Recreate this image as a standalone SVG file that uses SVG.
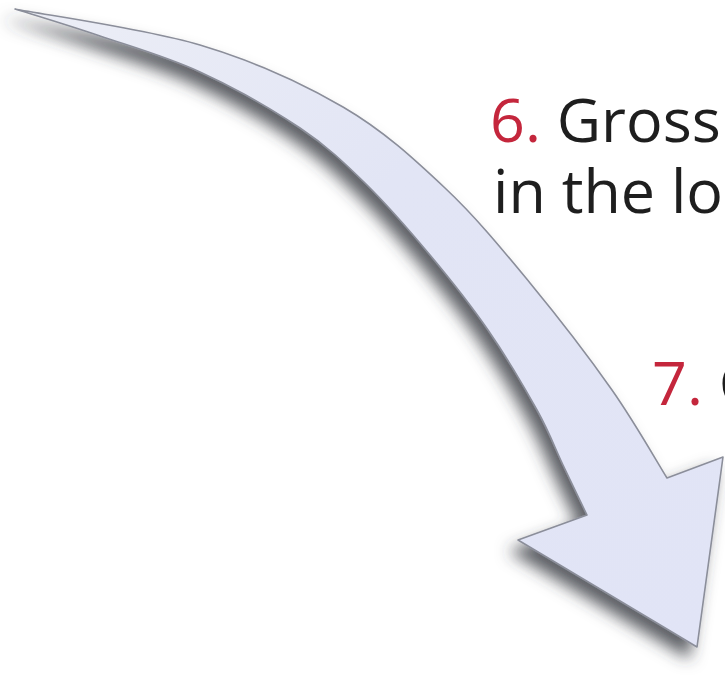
<svg xmlns="http://www.w3.org/2000/svg" width="725" height="683" viewBox="0 0 725 683">
  <style>
    .lbl { font-family: "Open Sans", "DejaVu Sans", sans-serif; font-size: 61px; fill: #1e1e1e; }
    .num { fill: #c4263c; }
    .arrow-body { fill: url(#arrowFill); stroke: #8b8e9a; stroke-width: 1.6; stroke-linejoin: round; }
  </style>
  <defs>
    <linearGradient id="arrowFill" x1="0" y1="0" x2="1" y2="1">
      <stop offset="0" stop-color="#eceef6"/>
      <stop offset="0.4" stop-color="#e2e5f5"/>
      <stop offset="1" stop-color="#e1e4f6"/>
    </linearGradient>
    <filter id="shadow" x="-20%" y="-20%" width="140%" height="140%">
      <feGaussianBlur in="SourceAlpha" stdDeviation="8" result="b"/>
      <feOffset in="b" dx="-8" dy="11" result="o"/>
      <feFlood flood-color="#35383f" flood-opacity="0.8"/>
      <feComposite in2="o" operator="in" result="s"/>
      <feMerge>
        <feMergeNode in="s"/>
        <feMergeNode in="SourceGraphic"/>
      </feMerge>
    </filter>
  </defs>
  <rect width="725" height="683" fill="#ffffff"/>
  <g id="connectors">
    <g id="arrow" filter="url(#shadow)">
      <path class="arrow-body" d="M 15,9
        C 45.8,15 145.3,28.7 200,45
        C 254.7,61.3 302.2,83.2 343,107
        C 383.8,130.8 413.8,158.7 445,188
        C 476.2,217.3 502.2,249.3 530,283
        C 557.8,316.7 589.2,357.5 612,390
        C 634.8,422.5 657.8,463.3 667,478
        L 723,457 L 697,647 L 518,540 L 587,515
        C 583,506.7 571.3,482.5 563,465
        C 554.7,447.5 549.5,432.5 537,410
        C 524.5,387.5 505.8,355.8 488,330
        C 470.2,304.2 450.5,279.5 430,255
        C 409.5,230.5 386.7,204.2 365,183
        C 343.3,161.8 327.5,146.5 300,128
        C 272.5,109.5 233.3,87.3 200,72
        C 166.7,56.7 130.8,46.5 100,36
        C 69.2,25.5 29.2,13.5 15,9 Z"/>
    </g>
  </g>
  <g id="label-6">
    <text class="lbl" x="490" y="142"><tspan class="num">6.</tspan> Gross</text>
    <text class="lbl" x="493" y="213">in the lo</text>
  </g>
  <g id="label-7">
    <text class="lbl" x="652" y="405"><tspan class="num">7.</tspan> C</text>
  </g>
</svg>
